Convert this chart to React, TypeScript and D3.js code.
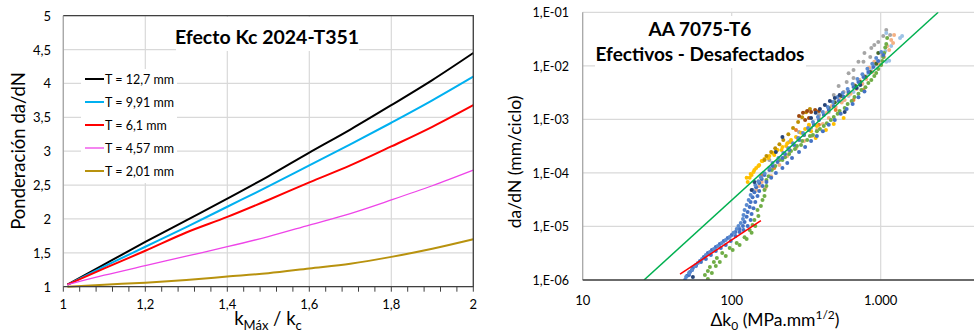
import * as d3 from 'd3'

// ---- left chart: Efecto Kc 2024-T351 ----
const kRatio = [1.01, 1.1, 1.2, 1.3, 1.4, 1.5, 1.6, 1.7, 1.8, 1.9, 2.0]
const pondT127 = [1.03, 1.33, 1.66, 1.98, 2.3, 2.63, 2.98, 3.32, 3.68, 4.05, 4.45]
const pondT991 = [1.03, 1.3, 1.59, 1.88, 2.18, 2.48, 2.79, 3.1, 3.42, 3.75, 4.1]
const pondT61 = [1.03, 1.27, 1.53, 1.8, 2.03, 2.28, 2.54, 2.79, 3.07, 3.36, 3.68]
const pondT457 = [1.03, 1.17, 1.31, 1.45, 1.59, 1.74, 1.91, 2.08, 2.28, 2.49, 2.72]
const pondT201 = [1.0, 1.03, 1.06, 1.1, 1.15, 1.2, 1.27, 1.34, 1.44, 1.56, 1.7]
const leftXTicks = [1, 1.2, 1.4, 1.6, 1.8, 2]
const leftYTicks = [1, 1.5, 2, 2.5, 3, 3.5, 4, 4.5, 5]

const leftSeries = [
  { label: 'T = 12,7 mm', color: '#000000', width: 2, values: pondT127 },
  { label: 'T = 9,91 mm', color: '#00B0F0', width: 2, values: pondT991 },
  { label: 'T = 6,1 mm', color: '#FF0000', width: 2, values: pondT61 },
  { label: 'T = 4,57 mm', color: '#EE44E8', width: 1.3, values: pondT457 },
  { label: 'T = 2,01 mm', color: '#B8920E', width: 2, values: pondT201 },
]

// ---- right chart: AA 7075-T6 (ΔK, da/dN) ----
type Pt = [number, number]
const blueA: Pt[] = [
  [48.6, 1.0e-6], [50.2, 1.2e-6], [52.5, 1.41e-6], [54.9, 1.68e-6], [57.5, 1.91e-6], [61.2, 2.27e-6],
  [65, 2.69e-6], [69.2, 3.19e-6], [73.6, 3.64e-6], [78.2, 4.14e-6], [83.2, 4.72e-6], [88.4, 5.37e-6],
  [94, 6.11e-6], [100, 6.94e-6], [106, 7.9e-6], [113, 9.0e-6], [119, 1.02e-5], [122, 1.21e-5],
  [126, 1.52e-5], [128, 1.87e-5], [132, 2.31e-5], [134, 2.85e-5], [138, 3.53e-5], [142, 4.36e-5],
  [146, 5.4e-5], [153, 6.5e-5], [159, 7.7e-5], [166, 9.1e-5], [179, 1.13e-4], [188, 1.35e-4],
  [203, 1.6e-4], [219, 1.9e-4], [228, 2.25e-4], [243, 2.68e-4], [262, 3.32e-4], [283, 4.12e-4],
  [306, 5.1e-4], [330, 6.3e-4], [356, 7.9e-4], [385, 9.7e-4], [415, 1.21e-3], [448, 1.5e-3],
  [484, 1.78e-3], [522, 2.2e-3], [564, 2.64e-3], [609, 3.26e-3], [657, 4.04e-3], [709, 5.0e-3],
  [766, 6.2e-3], [826, 7.7e-3], [892, 9.5e-3], [963, 1.23e-2], [1040, 1.6e-2],
]
const blueB: Pt[] = [
  [51.7, 1.24e-6], [54.1, 1.54e-6], [57.5, 1.83e-6], [62.2, 2.17e-6], [67.1, 2.47e-6], [72.5, 2.93e-6],
  [78.2, 3.48e-6], [84.5, 3.96e-6], [91.2, 4.51e-6], [98.4, 5.34e-6], [106, 6.6e-6], [113, 7.9e-6],
  [120, 8.6e-6], [128, 1.02e-5], [134, 1.32e-5], [136, 1.71e-5], [140, 2.2e-5], [144, 2.85e-5],
  [149, 3.7e-5], [153, 4.6e-5], [161, 5.7e-5], [171, 6.8e-5], [184, 8.1e-5], [198, 1.0e-4],
  [219, 1.23e-4], [236, 1.53e-4], [254, 1.9e-4], [283, 2.45e-4], [311, 3.05e-4], [341, 3.95e-4],
  [373, 4.9e-4], [409, 6.0e-4], [448, 7.9e-4], [492, 9.7e-4], [539, 1.27e-3], [591, 1.57e-3],
  [648, 1.94e-3], [709, 2.6e-3], [778, 3.3e-3],
]
const blueC: Pt[] = [
  [49.4, 1.14e-6], [51.7, 1.35e-6], [54.1, 1.54e-6], [56.7, 1.83e-6], [59.3, 2.08e-6], [63.2, 2.47e-6],
  [67.1, 2.93e-6], [71.4, 3.33e-6], [75.9, 3.8e-6], [80.7, 4.32e-6], [85.8, 4.93e-6], [91.2, 5.6e-6],
  [96.9, 6.37e-6], [103, 7.6e-6], [108, 8.98e-6], [111, 1.02e-5], [115, 1.16e-5], [119, 1.38e-5],
  [120, 1.64e-5], [122, 2.03e-5], [126, 2.52e-5], [130, 3.12e-5], [134, 3.87e-5], [138, 4.8e-5],
  [144, 5.95e-5], [151, 7.0e-5], [157, 8.3e-5], [166, 9.9e-5], [179, 1.23e-4], [188, 1.53e-4],
  [206, 1.9e-4], [222, 2.35e-4], [240, 2.9e-4], [258, 3.6e-4], [279, 4.48e-4], [301, 5.55e-4],
  [325, 6.9e-4], [351, 8.9e-4], [379, 1.11e-3], [409, 1.38e-3], [441, 1.71e-3], [477, 2.12e-3],
  [514, 2.63e-3], [556, 3.12e-3], [600, 3.7e-3], [648, 4.58e-3], [698, 5.7e-3], [754, 7.0e-3],
  [814, 8.8e-3], [878, 1.09e-2], [933, 1.4e-2], [1008, 1.82e-2],
]
const greenA: Pt[] = [
  [66.1, 1.24e-6], [69.2, 1.47e-6], [71.4, 1.75e-6], [75.9, 2.17e-6], [79.5, 2.58e-6], [86.4, 3.19e-6],
  [96.9, 3.97e-6], [108, 4.93e-6], [122, 6.3e-6], [132, 8.6e-6], [138, 1.07e-5], [142, 1.32e-5],
  [149, 2.03e-5], [161, 3.12e-5], [166, 4.8e-5], [171, 7.4e-5], [186, 1.13e-4], [209, 1.74e-4],
  [228, 1.97e-4], [250, 2.56e-4], [274, 3.17e-4], [297, 3.95e-4], [335, 4.9e-4], [373, 6.0e-4],
  [415, 7.5e-4], [463, 9.7e-4], [514, 1.27e-3], [573, 1.64e-3], [638, 2.2e-3], [709, 3.0e-3],
  [790, 4.0e-3], [865, 5.45e-3], [933, 7.35e-3], [1008, 1.04e-2], [1040, 1.46e-2], [1073, 2.2e-2],
  [1105, 3.3e-2],
]
const greenB: Pt[] = [
  [69.2, 1.04e-6], [73.6, 1.35e-6], [78.2, 1.83e-6], [83.2, 2.17e-6], [91.2, 2.81e-6], [101.5, 3.64e-6],
  [113, 4.51e-6], [126, 5.85e-6], [136, 7.6e-6], [144, 1.02e-5], [151, 1.57e-5], [157, 2.41e-5],
  [166, 3.7e-5], [171, 5.7e-5], [177, 8.7e-5], [196, 1.35e-4], [219, 1.74e-4], [243, 2.25e-4],
  [266, 2.8e-4], [292, 3.32e-4], [321, 4.12e-4], [351, 5.1e-4], [391, 6.6e-4], [435, 8.5e-4],
  [484, 1.11e-3], [530, 1.43e-3], [600, 1.94e-3], [667, 2.63e-3], [742, 3.54e-3], [826, 4.79e-3],
  [906, 6.45e-3], [963, 8.7e-3], [1024, 1.23e-2], [1056, 1.74e-2], [1090, 2.56e-2],
]
const goldA: Pt[] = [
  [128, 6.8e-5], [132, 8.1e-5], [136, 9.1e-5], [140, 1.04e-4], [146, 1.23e-4], [153, 1.41e-4],
  [159, 1.67e-4], [166, 1.82e-4], [179, 2.06e-4], [188, 2.35e-4], [203, 2.68e-4], [219, 3.05e-4],
  [236, 3.6e-4], [250, 4.12e-4], [270, 4.7e-4], [292, 5.6e-4], [311, 6.6e-4], [330, 7.9e-4],
  [366, 4.5e-4], [429, 6.3e-4],
]
const goldB: Pt[] = [
  [126, 8.1e-5], [134, 9.5e-5], [142, 1.13e-4], [151, 1.35e-4], [161, 1.67e-4], [176, 1.9e-4],
  [193, 2.16e-4], [216, 2.68e-4], [232, 3.18e-4], [250, 3.8e-4], [279, 4.3e-4], [306, 5.1e-4],
  [341, 6.0e-4], [373, 7.5e-4], [484, 8.2e-4], [564, 1.06e-3],
]
const oliveA: Pt[] = [
  [166, 1.74e-4], [171, 2.06e-4], [184, 2.45e-4], [196, 2.9e-4], [209, 3.45e-4], [222, 4.12e-4],
  [240, 5.3e-4], [258, 6.9e-4], [279, 8.9e-4], [297, 1.1e-3], [316, 1.36e-3], [335, 1.56e-3],
]
const brownA: Pt[] = [
  [283, 1.16e-3], [301, 1.33e-3], [321, 1.44e-3], [341, 1.38e-3], [363, 1.5e-3], [385, 1.44e-3],
  [311, 9.7e-4], [330, 1.06e-3],
]
const navyA: Pt[] = [
  [54.9, 1.14e-6], [136, 4.8e-5], [142, 6.8e-5], [198, 2.45e-4], [219, 4.68e-4], [341, 1.06e-3],
  [366, 1.33e-3], [391, 1.56e-3], [422, 1.86e-3], [456, 2.2e-3], [492, 2.5e-3], [530, 2.86e-3],
  [573, 1.38e-3], [688, 3.86e-3], [730, 4.39e-3],
]
const lightBlueA: Pt[] = [
  [564, 2.3e-3], [609, 2.74e-3], [657, 3.26e-3], [698, 3.86e-3], [752, 4.7e-3], [790, 5.9e-3],
  [826, 7.0e-3], [865, 8.4e-3], [906, 1.0e-2], [948, 1.19e-2], [1023, 1.53e-2], [1073, 1.9e-2],
  [1090, 1.19e-2], [1140, 1.24e-2], [1176, 2.35e-2], [1090, 4.1e-2], [1349, 3.31e-2], [1392, 3.6e-2],
]
const peachA: Pt[] = [
  [146, 4.8e-5], [153, 5.7e-5], [159, 6.8e-5], [168, 5.2e-5], [184, 8.7e-5], [209, 1.41e-4],
  [236, 2.06e-4], [270, 2.9e-4], [306, 3.95e-4], [346, 4.9e-4], [373, 6.3e-4], [409, 8.2e-4],
  [448, 1.06e-3], [499, 1.7e-3], [547, 2.06e-3], [573, 2.3e-3], [628, 3.0e-3], [688, 3.7e-3],
  [752, 4.6e-3], [802, 5.7e-3], [878, 7.7e-3], [963, 1.09e-2], [1056, 1.46e-2], [1140, 1.98e-2],
  [1211, 2.67e-2],
]
const peachB: Pt[] = [
  [243, 2.9e-4], [283, 4.48e-4], [330, 7.5e-4], [385, 1.06e-3], [435, 1.33e-3], [470, 1.78e-3],
  [530, 2.5e-3], [600, 2.86e-3], [667, 4.39e-3], [721, 5.45e-3], [778, 6.45e-3], [838, 9.2e-3],
  [906, 1.19e-2], [1024, 1.67e-2], [1105, 2.35e-2], [1176, 3.04e-2], [1230, 3.77e-2],
]
const orangeA: Pt[] = [
  [159, 9.1e-5], [193, 1.23e-4], [270, 6.3e-4], [385, 7.9e-4], [499, 1.5e-3], [657, 2.3e-3], [766, 3.54e-3],
]
const grayA: Pt[] = [
  [179, 1.74e-4], [196, 2.45e-4], [243, 3.8e-4], [341, 6.9e-4], [448, 1.38e-3], [522, 4.2e-3],
  [564, 3.26e-3], [609, 7.3e-3], [657, 5.9e-3], [709, 1.19e-2], [778, 1.74e-2], [865, 2.16e-2],
  [906, 2.45e-2], [1040, 3.6e-2], [1090, 4.68e-2],
  [283, 5.8e-4], [385, 1.21e-3], [484, 2.86e-3], [591, 5.0e-3], [657, 8.4e-3], [766, 1.19e-2],
  [851, 1.46e-2], [963, 2.8e-2], [1157, 3.77e-2],
]
const darkGreenA: Pt[] = [
  [448, 1.64e-3], [492, 2.1e-3], [547, 2.74e-3], [609, 3.26e-3], [677, 4.2e-3], [730, 5.0e-3],
  [790, 6.2e-3], [851, 7.7e-3], [933, 1.09e-2], [963, 1.74e-2],
]
const fitGreen: Pt[] = [[25.8, 1e-6], [2432, 1e-1]]
const fitRed: Pt[] = [[45, 1.29e-6], [157, 1.28e-5]]
const rightXTicks = [10, 100, 1000]
const rightXLabels = ['10', '100', '1.000']
const rightYTicks = [1e-1, 1e-2, 1e-3, 1e-4, 1e-5, 1e-6]
const rightYLabels = ['1,E-01', '1,E-02', '1,E-03', '1,E-04', '1,E-05', '1,E-06']

const scatter = [
  { color: '#A5A5A5', pts: grayA },
  { color: '#9DC3E6', pts: lightBlueA },
  { color: '#F4B183', pts: peachA },
  { color: '#F4B183', pts: peachB },
  { color: '#ED7D31', pts: orangeA },
  { color: '#FFC000', pts: goldA },
  { color: '#FFC000', pts: goldB },
  { color: '#BF9000', pts: oliveA },
  { color: '#9E480E', pts: brownA },
  { color: '#70AD47', pts: greenA },
  { color: '#70AD47', pts: greenB },
  { color: '#43682B', pts: darkGreenA },
  { color: '#4472C4', pts: blueA },
  { color: '#4472C4', pts: blueB },
  { color: '#5B8BD0', pts: blueC },
  { color: '#264478', pts: navyA },
]

const FONT = 'Lato, "Open Sans", sans-serif'

function LeftChart() {
  const x = d3.scaleLinear().domain([1, 2]).range([63.3, 473.3])
  const y = d3.scaleLinear().domain([1, 5]).range([286.7, 15.7])
  const line = d3
    .line<number>()
    .x((_, i) => x(kRatio[i]))
    .y((d) => y(d))
    .curve(d3.curveMonotoneX)
  const minor = d3.range(0, 26).map((i) => 1 + i * 0.04)
  const [x0, x1] = x.range()
  const [y0, y1] = y.range()
  return (
    <g fontFamily={FONT}>
      {leftYTicks.map((t) => (
        <line key={'gy' + t} x1={x0} x2={x1} y1={y(t)} y2={y(t)} stroke="#D9D9D9" strokeWidth={1.2} />
      ))}
      {leftXTicks.map((t) => (
        <line key={'gx' + t} x1={x(t)} x2={x(t)} y1={y0} y2={y1} stroke="#D9D9D9" strokeWidth={1.2} />
      ))}
      {/* title box */}
      <rect x={176} y={17} width={183} height={34} fill="#fff" />
      <text x={267} y={44} textAnchor="middle" fontWeight="bold" fontSize={19.5}>
        Efecto Kc 2024-T351
      </text>
      {/* legend */}
      <rect x={81} y={69} width={96} height={114} fill="#fff" />
      {leftSeries.map((s, i) => {
        const ly = 79 + i * 23
        return (
          <g key={s.label}>
            <line x1={85} x2={104} y1={ly} y2={ly} stroke={s.color} strokeWidth={s.width} />
            <text x={105} y={ly + 4.5} fontSize={12.5}>
              {s.label}
            </text>
          </g>
        )
      })}
      {leftSeries.map((s) => (
        <path key={'p' + s.label} d={line(s.values) ?? ''} fill="none" stroke={s.color} strokeWidth={s.width} />
      ))}
      {/* frame */}
      <line x1={x0} x2={x0} y1={y0} y2={y1} stroke="#A6A6A6" strokeWidth={1.3} />
      <path d={`M${x0},${y1}H${x1}V${y0}H${x0}`} fill="none" stroke="#404040" strokeWidth={1.3} />
      {minor.map((t) => (
        <line key={'mt' + t} x1={x(t)} x2={x(t)} y1={y0} y2={y0 + 5} stroke="#404040" strokeWidth={1} />
      ))}
      {leftXTicks.map((t) => (
        <text key={'xl' + t} x={x(t)} y={309} textAnchor="middle" fontSize={13}>
          {String(t).replace('.', ',')}
        </text>
      ))}
      {leftYTicks.map((t) => (
        <text key={'yl' + t} x={51} y={y(t) + 5} textAnchor="end" fontSize={13}>
          {String(t).replace('.', ',')}
        </text>
      ))}
      <text transform="translate(25,151) rotate(-90)" textAnchor="middle" fontSize={18.5}>
        Ponderación da/dN
      </text>
      <text x={268} y={325} textAnchor="middle" fontSize={18.5}>
        k<tspan fontSize={13} dy={5}>Máx</tspan>
        <tspan dy={-5}> / k</tspan>
        <tspan fontSize={13} dy={5}>c</tspan>
      </text>
    </g>
  )
}

function RightChart() {
  const x = d3.scaleLog().domain([10, 10000]).range([582.7, 582.7 + 3 * 149])
  const y = d3.scaleLog().domain([1e-6, 1e-1]).range([280, 12.3])
  const y0 = 280
  const y1 = 12.3
  const x0 = 582.7
  const xr = 974
  const line = d3
    .line<Pt>()
    .x((d) => x(d[0]))
    .y((d) => y(d[1]))
  return (
    <g fontFamily={FONT}>
      <defs>
        <clipPath id="rclip">
          <rect x={x0} y={y1} width={xr - x0} height={y0 - y1} />
        </clipPath>
      </defs>
      {rightYTicks.map((t) => (
        <line key={'gy' + t} x1={x0} x2={xr} y1={y(t)} y2={y(t)} stroke="#D9D9D9" strokeWidth={1.2} />
      ))}
      {rightXTicks.slice(1).map((t) => (
        <line key={'gx' + t} x1={x(t)} x2={x(t)} y1={y0} y2={y1} stroke="#D9D9D9" strokeWidth={1.2} />
      ))}
      <rect x={595} y={16} width={211} height={52} fill="#fff" />
      <text x={700} y={36} textAnchor="middle" fontWeight="bold" fontSize={19}>
        AA 7075-T6
      </text>
      <text x={700} y={61} textAnchor="middle" fontWeight="bold" fontSize={19}>
        Efectivos - Desafectados
      </text>
      <g clipPath="url(#rclip)">
        {scatter.map((s, si) =>
          s.pts.map((p, i) => <circle key={si + '-' + i} cx={x(p[0])} cy={y(p[1])} r={2} fill={s.color} />),
        )}
        <path d={line(fitGreen) ?? ''} stroke="#00B050" strokeWidth={1.5} fill="none" />
        <path d={line(fitRed) ?? ''} stroke="#FF0000" strokeWidth={1.5} fill="none" />
      </g>
      <line x1={x0} x2={x0} y1={y0} y2={y1} stroke="#A6A6A6" strokeWidth={1.3} />
      <line x1={x0} x2={xr} y1={y0} y2={y0} stroke="#404040" strokeWidth={1.5} />
      {rightXTicks.map((t, i) => (
        <text key={'xl' + t} x={x(t)} y={305} textAnchor="middle" fontSize={13}>
          {rightXLabels[i]}
        </text>
      ))}
      {rightYTicks.map((t, i) => (
        <text key={'yl' + t} x={569} y={y(t) + 5} textAnchor="end" fontSize={12.5}>
          {rightYLabels[i]}
        </text>
      ))}
      <text transform="translate(521,162) rotate(-90)" textAnchor="middle" fontSize={17.5}>
        da/dN (mm/ciclo)
      </text>
      <text x={775} y={326} textAnchor="middle" fontSize={17.5}>
        Δk<tspan fontSize={12} dy={4}>0</tspan>
        <tspan dy={-4}> (MPa.mm</tspan>
        <tspan fontSize={12} dy={-7}>1/2</tspan>
        <tspan dy={7}>)</tspan>
      </text>
    </g>
  )
}

export default function App() {
  return (
    <svg
      width={974}
      height={333}
      style={{ position: 'absolute', left: 0, top: 0, background: '#fff' }}
    >
      <rect width={974} height={333} fill="#fff" />
      <LeftChart />
      <RightChart />
    </svg>
  )
}
